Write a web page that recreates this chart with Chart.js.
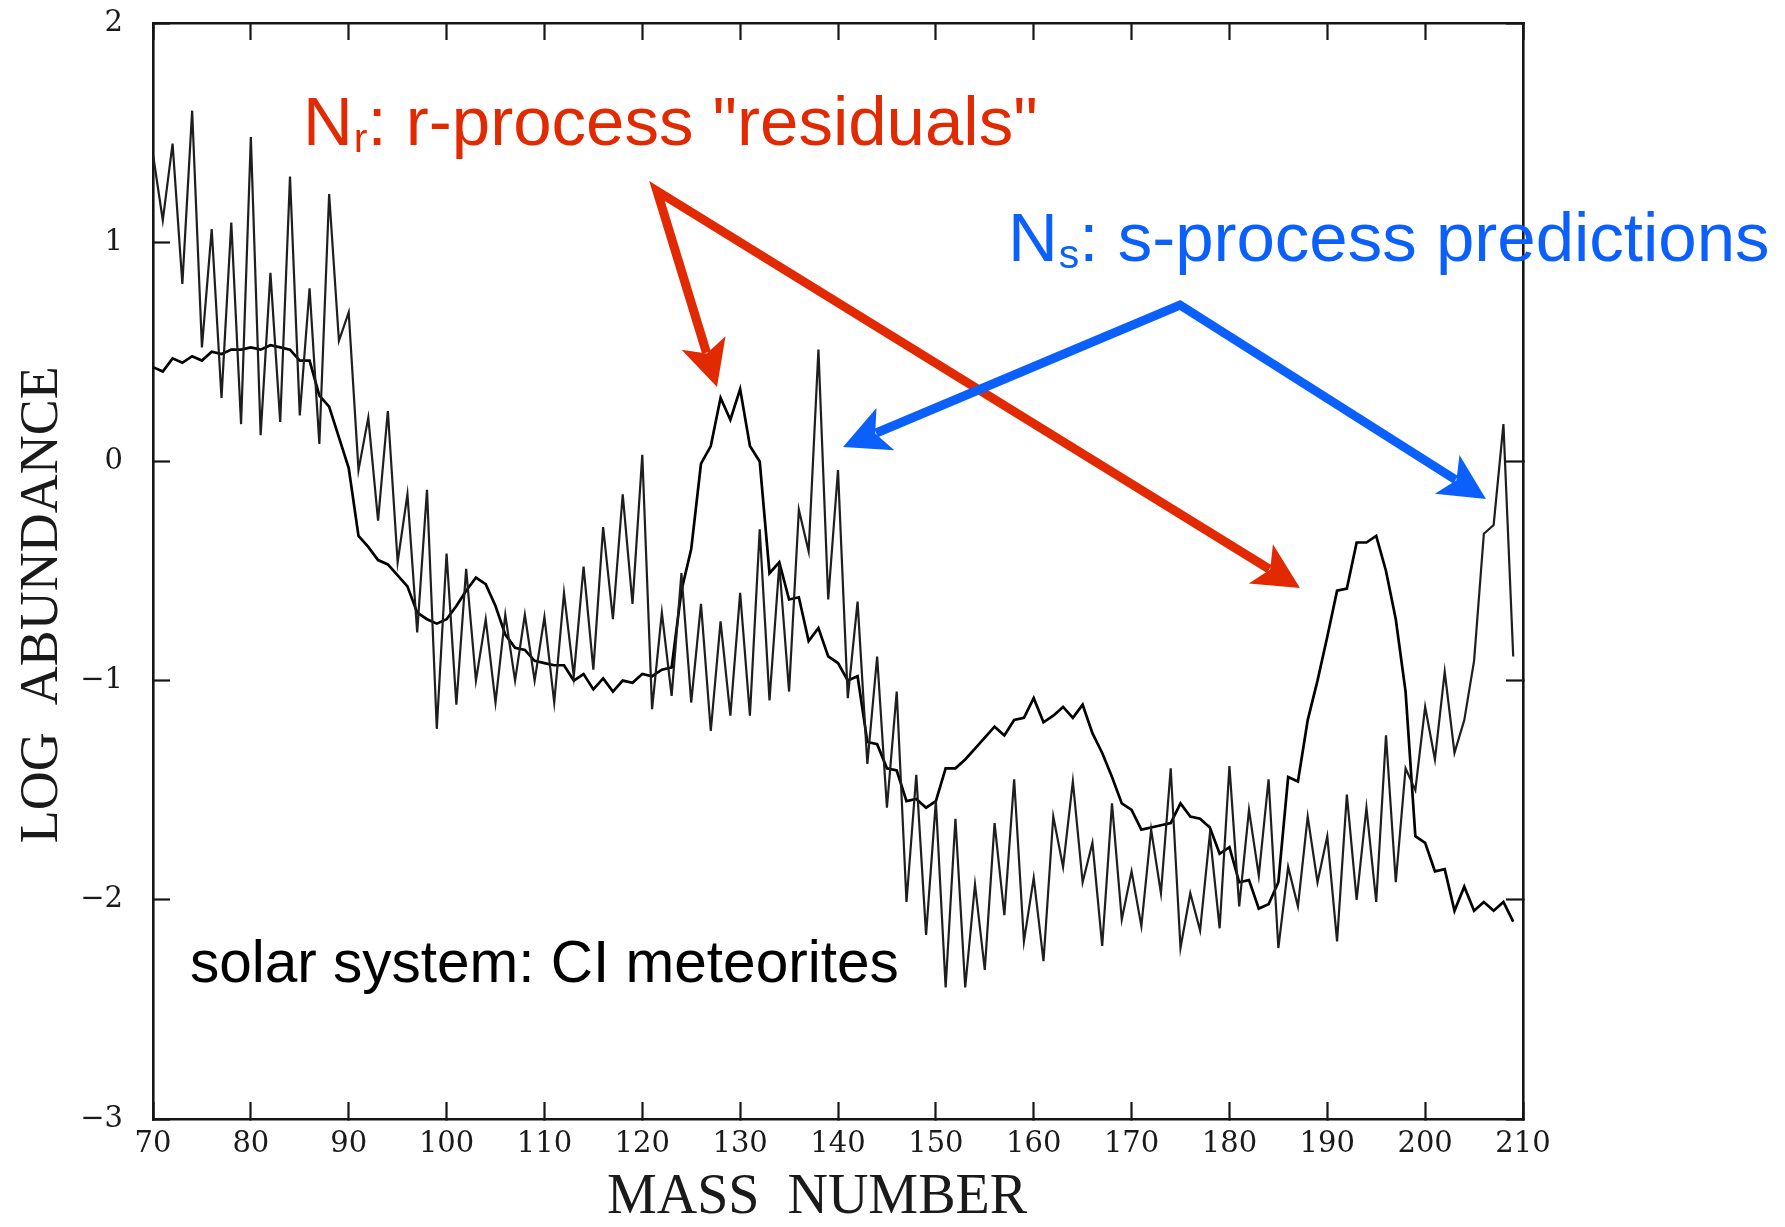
<!DOCTYPE html>
<html>
<head>
<meta charset="utf-8">
<script src="https://cdn.jsdelivr.net/npm/chart.js@4.4.1/dist/chart.umd.min.js"></script>
<style>
  html, body { margin: 0; padding: 0; background: #fff; }
  #wrap { width: 1785px; height: 1227px; }
</style>
</head>
<body>
<div id="wrap"><canvas id="grafica" width="1785" height="1227"></canvas></div>
<script>
// mass numbers (x) and the two abundance curves
const massNumbers = [
  70, 71, 72, 73, 74, 75, 76, 77, 78, 79,
  80, 81, 82, 83, 84, 85, 86, 87, 88, 89,
  90, 91, 92, 93, 94, 95, 96, 97, 98, 99,
  100, 101, 102, 103, 104, 105, 106, 107, 108, 109,
  110, 111, 112, 113, 114, 115, 116, 117, 118, 119,
  120, 121, 122, 123, 124, 125, 126, 127, 128, 129,
  130, 131, 132, 133, 134, 135, 136, 137, 138, 139,
  140, 141, 142, 143, 144, 145, 146, 147, 148, 149,
  150, 151, 152, 153, 154, 155, 156, 157, 158, 159,
  160, 161, 162, 163, 164, 165, 166, 167, 168, 169,
  170, 171, 172, 173, 174, 175, 176, 177, 178, 179,
  180, 181, 182, 183, 184, 185, 186, 187, 188, 189,
  190, 191, 192, 193, 194, 195, 196, 197, 198, 199,
  200, 201, 202, 203, 204, 205, 206, 207, 208, 209
];

// jagged curve (s-process predictions)
const sProcess = [
  1.40, 1.10, 1.45, 0.81, 1.60, 0.52, 1.06, 0.29, 1.09, 0.17,
  1.48, 0.12, 0.86, 0.18, 1.30, 0.21, 0.79, 0.08, 1.22, 0.55,
  0.68, -0.04, 0.20, -0.27, 0.23, -0.46, -0.15, -0.78, -0.13, -1.22,
  -0.42, -1.11, -0.49, -1.00, -0.72, -1.10, -0.70, -1.00, -0.70, -1.00,
  -0.71, -1.10, -0.60, -0.98, -0.48, -0.95, -0.30, -0.72, -0.15, -0.65,
  0.03, -1.13, -0.69, -1.07, -0.51, -1.10, -0.65, -1.23, -0.73, -1.16,
  -0.60, -1.16, -0.31, -1.09, -0.47, -1.05, -0.22, -0.41, 0.51, -0.63,
  -0.04, -1.08, -0.64, -1.38, -0.89, -1.58, -1.05, -2.01, -1.43, -2.16,
  -1.55, -2.40, -1.63, -2.40, -1.93, -2.32, -1.65, -2.07, -1.45, -2.19,
  -1.90, -2.28, -1.62, -1.85, -1.46, -1.92, -1.74, -2.21, -1.56, -2.09,
  -1.87, -2.12, -1.68, -1.97, -1.40, -2.22, -1.97, -2.14, -1.70, -2.13,
  -1.39, -2.03, -1.59, -1.89, -1.45, -2.22, -1.85, -2.03, -1.62, -1.92,
  -1.71, -2.19, -1.52, -2.00, -1.58, -2.01, -1.25, -1.92, -1.40, -1.50,
  -1.12, -1.36, -0.96, -1.33, -1.18, -0.91, -0.33, -0.29, 0.17, -0.89
];

// smoother curve (r-process residuals)
const rProcess = [
  0.43, 0.41, 0.47, 0.45, 0.48, 0.46, 0.50, 0.49, 0.51, 0.51,
  0.52, 0.51, 0.53, 0.52, 0.51, 0.46, 0.46, 0.30, 0.25, 0.11,
  -0.03, -0.34, -0.39, -0.45, -0.47, -0.52, -0.57, -0.69, -0.72, -0.74,
  -0.72, -0.66, -0.59, -0.53, -0.56, -0.66, -0.79, -0.85, -0.86, -0.91,
  -0.92, -0.93, -0.93, -1.00, -0.97, -1.04, -0.99, -1.05, -1.00, -1.01,
  -0.97, -0.98, -0.95, -0.94, -0.59, -0.40, -0.01, 0.07, 0.29, 0.19,
  0.33, 0.07, 0.00, -0.51, -0.46, -0.63, -0.62, -0.82, -0.76, -0.89,
  -0.92, -1.00, -0.98, -1.28, -1.29, -1.40, -1.41, -1.55, -1.54, -1.58,
  -1.55, -1.40, -1.40, -1.36, -1.31, -1.26, -1.21, -1.25, -1.18, -1.17,
  -1.08, -1.19, -1.16, -1.12, -1.17, -1.11, -1.24, -1.33, -1.44, -1.56,
  -1.59, -1.68, -1.67, -1.66, -1.65, -1.56, -1.62, -1.63, -1.67, -1.79,
  -1.76, -1.92, -1.91, -2.04, -2.02, -1.92, -1.44, -1.46, -1.18, -1.00,
  -0.80, -0.59, -0.58, -0.37, -0.37, -0.34, -0.50, -0.72, -1.05, -1.71,
  -1.74, -1.87, -1.86, -2.05, -1.94, -2.05, -2.01, -2.05, -2.01, -2.10
];

const xTicks = [70, 80, 90, 100, 110, 120, 130, 140, 150, 160, 170, 180, 190, 200, 210];
const yTicks = [-3, -2, -1, 0, 1, 2];

const RED = '#e22a02';
const BLUE = '#0b60fb';
const INK = '#151515';

// arrows with a notched head, two shafts share one apex
function arrowHead(ctx, fromX, fromY, tipX, tipY, color) {
    const ang = Math.atan2(tipY - fromY, tipX - fromX);
    const c = Math.cos(ang), s = Math.sin(ang);
    const headLen = 46, headW = 23, notch = 11;
    const bx = tipX - headLen * c, by = tipY - headLen * s;
    ctx.fillStyle = color;
    ctx.beginPath();
    ctx.moveTo(tipX, tipY);
    ctx.lineTo(bx - headW * s, by + headW * c);
    ctx.lineTo(tipX - (headLen - notch) * c, tipY - (headLen - notch) * s);
    ctx.lineTo(bx + headW * s, by - headW * c);
    ctx.closePath();
    ctx.fill();
}

function forkArrow(ctx, apex, tip1, tip2, color) {
    const shaftEnd = (tip) => {
        const ang = Math.atan2(tip[1] - apex[1], tip[0] - apex[0]);
        return [tip[0] - 36 * Math.cos(ang), tip[1] - 36 * Math.sin(ang)];
    };
    const e1 = shaftEnd(tip1), e2 = shaftEnd(tip2);
    ctx.strokeStyle = color;
    ctx.lineWidth = 9;
    ctx.lineJoin = 'miter';
    ctx.miterLimit = 10;
    ctx.lineCap = 'butt';
    ctx.beginPath();
    ctx.moveTo(e1[0], e1[1]);
    ctx.lineTo(apex[0], apex[1]);
    ctx.lineTo(e2[0], e2[1]);
    ctx.stroke();
    arrowHead(ctx, apex[0], apex[1], tip1[0], tip1[1], color);
    arrowHead(ctx, apex[0], apex[1], tip2[0], tip2[1], color);
}

function labelWithSub(ctx, x, y, main, sub, rest, color) {
    ctx.fillStyle = color;
    ctx.textBaseline = 'alphabetic';
    ctx.textAlign = 'left';
    ctx.font = '69px "Liberation Sans", Arial, sans-serif';
    ctx.fillText(main, x, y);
    let cx = x + ctx.measureText(main).width;
    ctx.font = '41px "Liberation Sans", Arial, sans-serif';
    ctx.fillText(sub, cx + 1, y + 7);
    cx += ctx.measureText(sub).width + 1;
    ctx.font = '69px "Liberation Sans", Arial, sans-serif';
    ctx.fillText(rest, cx, y);
}

const notasPlugin = {
    id: 'notas',
    afterDraw(chart) {
        const ctx = chart.ctx;
        ctx.save();
        forkArrow(ctx, [657, 191], [717, 387], [1300, 588], RED);
        forkArrow(ctx, [1180, 305], [843, 447], [1486, 499], BLUE);

        labelWithSub(ctx, 303, 145, 'N', 'r', ': r-process "residuals"', RED);
        labelWithSub(ctx, 1008, 261, 'N', 's', ': s-process predictions', BLUE);

        ctx.fillStyle = '#000';
        ctx.font = '58.5px "Liberation Sans", Arial, sans-serif';
        ctx.textAlign = 'left';
        ctx.textBaseline = 'alphabetic';
        ctx.fillText('solar system: CI meteorites', 190, 982);
        ctx.restore();
    }
};

const serif = '"Liberation Serif", "Times New Roman", serif';
const tickFont = { family: '"DejaVu Serif", serif', size: 29 };

function setTicks(list) {
    return (scale) => { scale.ticks = list.map(v => ({ value: v })); };
}

// keep the plot frame exactly where the figure has it
function fixBox(w, h) {
    return (s) => {
        if (w !== null) s.width = w;
        if (h !== null) s.height = h;
        s.paddingTop = 0;
        s.paddingBottom = 0;
        s.paddingLeft = 0;
        s.paddingRight = 0;
    };
}

const frameBorder = { display: true, color: INK, width: 2.6 };
const inwardGrid = { drawOnChartArea: false, drawTicks: true, tickLength: -17, tickColor: INK, tickWidth: 2.2, color: INK };

new Chart(document.getElementById('grafica').getContext('2d'), {
    type: 'line',
    data: {
        datasets: [
            {
                label: 'Ns: s-process predictions',
                data: massNumbers.map((m, i) => ({ x: m, y: sProcess[i] })),
                borderColor: '#1e1e1e',
                borderWidth: 2.2,
                pointRadius: 0,
                tension: 0,
                fill: false
            },
            {
                label: 'Nr: r-process residuals',
                data: massNumbers.map((m, i) => ({ x: m, y: rProcess[i] })),
                borderColor: '#000',
                borderWidth: 2.7,
                pointRadius: 0,
                tension: 0,
                fill: false
            }
        ]
    },
    options: {
        responsive: false,
        animation: false,
        events: [],
        layout: { padding: 0 },
        plugins: { legend: { display: false }, tooltip: { enabled: false } },
        scales: {
            x: {
                type: 'linear',
                position: 'bottom',
                min: 70,
                max: 210,
                afterBuildTicks: setTicks(xTicks),
                afterFit: fixBox(null, 108),
                ticks: { font: tickFont, color: '#1a1a1a', padding: 25, maxRotation: 0, autoSkip: false },
                grid: inwardGrid,
                border: frameBorder,
                title: {
                    display: true,
                    text: 'MASS  NUMBER   ',
                    font: { family: serif, size: 56, lineHeight: 1 },
                    color: '#1a1a1a',
                    padding: { top: 0, bottom: 1 }
                }
            },
            xTop: {
                type: 'linear',
                position: 'top',
                min: 70,
                max: 210,
                afterBuildTicks: setTicks(xTicks),
                afterFit: fixBox(null, 23),
                ticks: { display: false },
                grid: inwardGrid,
                border: frameBorder
            },
            y: {
                type: 'linear',
                position: 'left',
                min: -3,
                max: 2,
                afterBuildTicks: setTicks(yTicks),
                afterFit: fixBox(153, null),
                ticks: {
                    font: tickFont,
                    color: '#1a1a1a',
                    padding: 47,
                    callback: (v) => String(v).replace('-', '\u2212')
                },
                grid: inwardGrid,
                border: frameBorder,
                title: {
                    display: true,
                    text: 'LOG  ABUNDANCE     ',
                    font: { family: serif, size: 54, lineHeight: 1 },
                    color: '#1a1a1a',
                    padding: { top: 16, bottom: 0 }
                }
            },
            yRight: {
                type: 'linear',
                position: 'right',
                min: -3,
                max: 2,
                afterBuildTicks: setTicks(yTicks),
                afterFit: fixBox(262, null),
                ticks: { display: false },
                grid: inwardGrid,
                border: frameBorder
            }
        }
    },
    plugins: [notasPlugin]
});
</script>
</body>
</html>
